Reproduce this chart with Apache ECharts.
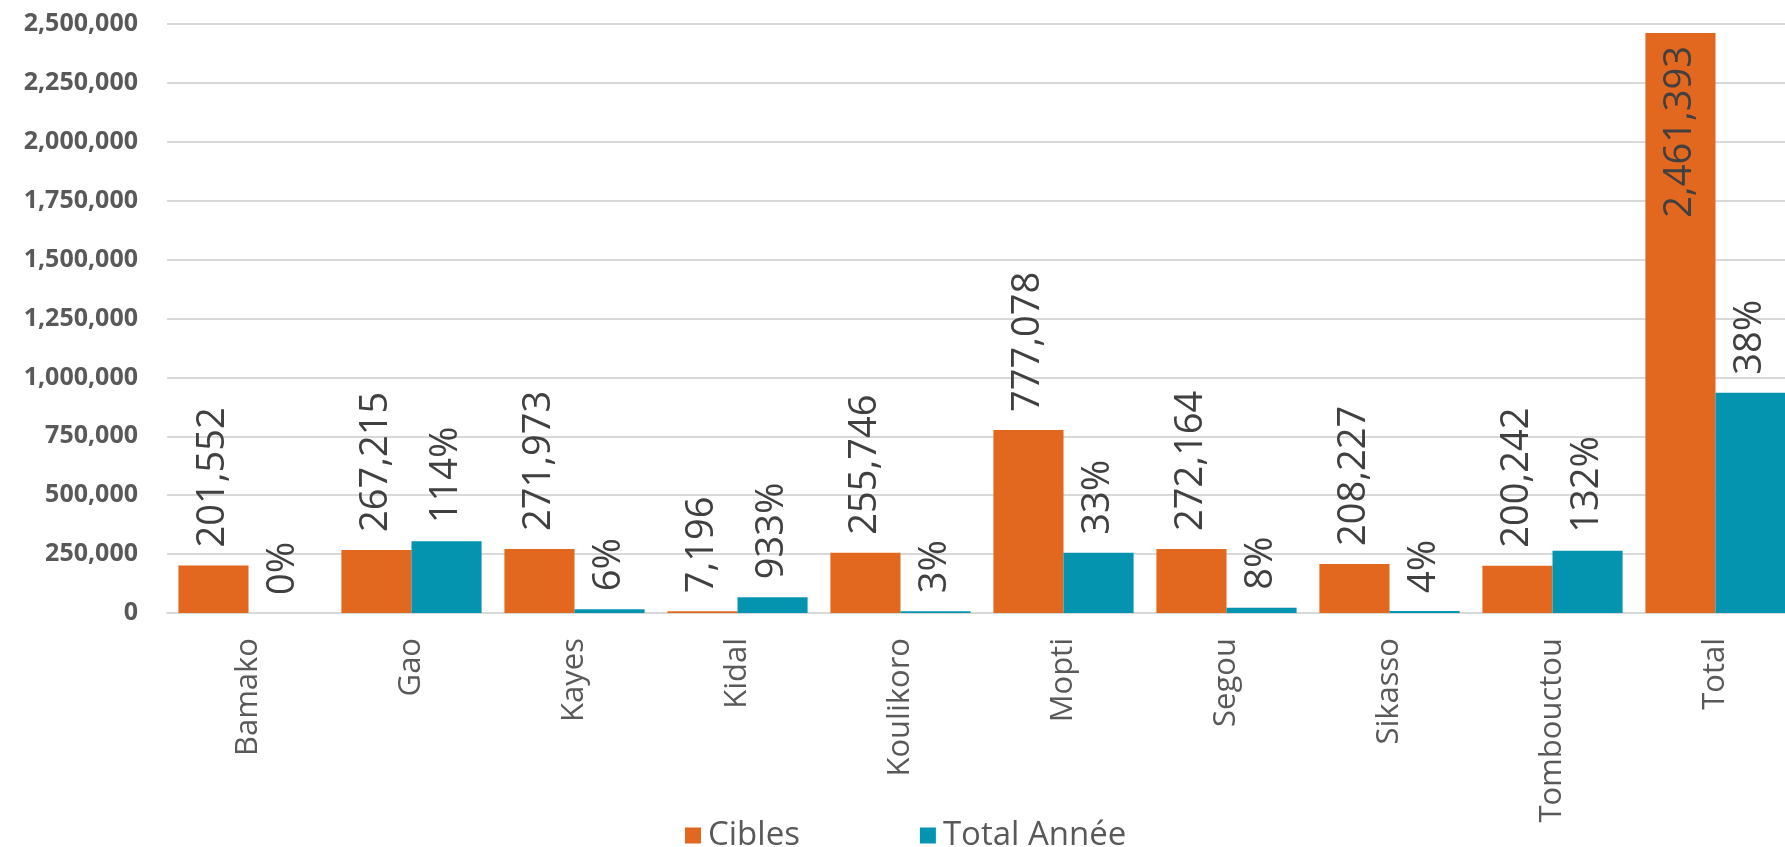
<!DOCTYPE html>
<html>
<head>
    <meta charset="utf-8">
    <title>Cibles / Total Année</title>
    <script src="https://cdn.jsdelivr.net/npm/echarts@6/dist/echarts.min.js"></script>
    <style>
        html, body {margin: 0; padding: 0; background: #fff; overflow: hidden;}
        /* le graphique d'origine est coupé à droite : le conteneur déborde un peu */
        #main {width: 1810px; height: 847px;}
    </style>
</head>
<body>
<div id="main"></div>
<script type="text/javascript">
    // données
    var regions = ['Bamako', 'Gao', 'Kayes', 'Kidal', 'Koulikoro', 'Mopti', 'Segou', 'Sikasso', 'Tombouctou', 'Total'];
    var cibles = [201552, 267215, 271973, 7196, 255746, 777078, 272164, 208227, 200242, 2461393];
    var totalAnnee = [0, 305000, 16000, 67000, 7500, 256000, 22000, 8500, 264000, 935000];
    var pctLabels = ['0%', '114%', '6%', '933%', '3%', '33%', '8%', '4%', '132%', '38%'];
    var yTicks = [0, 250000, 500000, 750000, 1000000, 1250000, 1500000, 1750000, 2000000, 2250000, 2500000];

    var orange = '#E2671F';
    var teal = '#0494B0';
    var fontName = '"Open Sans", "Noto Sans", sans-serif';

    var labelStyle = {
        show: true,
        position: 'top',
        rotate: 90,
        align: 'left',
        verticalAlign: 'middle',
        distance: 18,
        fontFamily: fontName,
        fontSize: 38,
        color: '#404040'
    };

    // la dernière barre (Total) porte son étiquette à l'intérieur
    var ciblesData = cibles.map(function (v, i) {
        if (i == cibles.length - 1) {
            return {
                value: v,
                label: {position: 'insideTop', align: 'right', distance: 13}
            };
        }
        return v;
    });

    var myChart = echarts.init(document.getElementById('main'));
    var option = {
        animation: false,
        grid: {left: 167, top: 24, width: 1630, height: 589, containLabel: false},
        legend: {
            data: ['Cibles', 'Total Année'],
            left: 680,
            top: 814,
            itemWidth: 16,
            itemHeight: 16,
            itemGap: 120,
            icon: 'rect',
            textStyle: {fontFamily: fontName, fontSize: 33, color: '#595959', padding: [0, 0, 0, 2]}
        },
        xAxis: {
            type: 'category',
            data: regions,
            axisTick: {show: false},
            axisLine: {lineStyle: {color: '#D9D9D9', width: 2}},
            axisLabel: {
                rotate: 90,
                margin: 25,
                fontFamily: fontName,
                fontSize: 31,
                color: '#595959'
            }
        },
        yAxis: {
            type: 'value',
            min: yTicks[0],
            max: yTicks[yTicks.length - 1],
            interval: yTicks[1] - yTicks[0],
            axisLine: {show: false},
            axisTick: {show: false},
            splitLine: {lineStyle: {color: '#D9D9D9', width: 2}},
            axisLabel: {
                margin: 29,
                fontFamily: fontName,
                fontSize: 25,
                fontWeight: 'bold',
                color: '#595959',
                formatter: function (v) { return v.toLocaleString('en-US'); }
            }
        },
        series: [
            {
                name: 'Cibles',
                type: 'bar',
                data: ciblesData,
                barGap: '0%',
                barCategoryGap: '14%',
                itemStyle: {color: orange},
                label: Object.assign({}, labelStyle, {
                    formatter: function (p) { return p.value.toLocaleString('en-US'); }
                })
            },
            {
                name: 'Total Année',
                type: 'bar',
                data: totalAnnee,
                itemStyle: {color: teal},
                label: Object.assign({}, labelStyle, {
                    formatter: function (p) { return pctLabels[p.dataIndex]; }
                })
            }
        ]
    };
    myChart.setOption(option);
</script>
</body>
</html>
